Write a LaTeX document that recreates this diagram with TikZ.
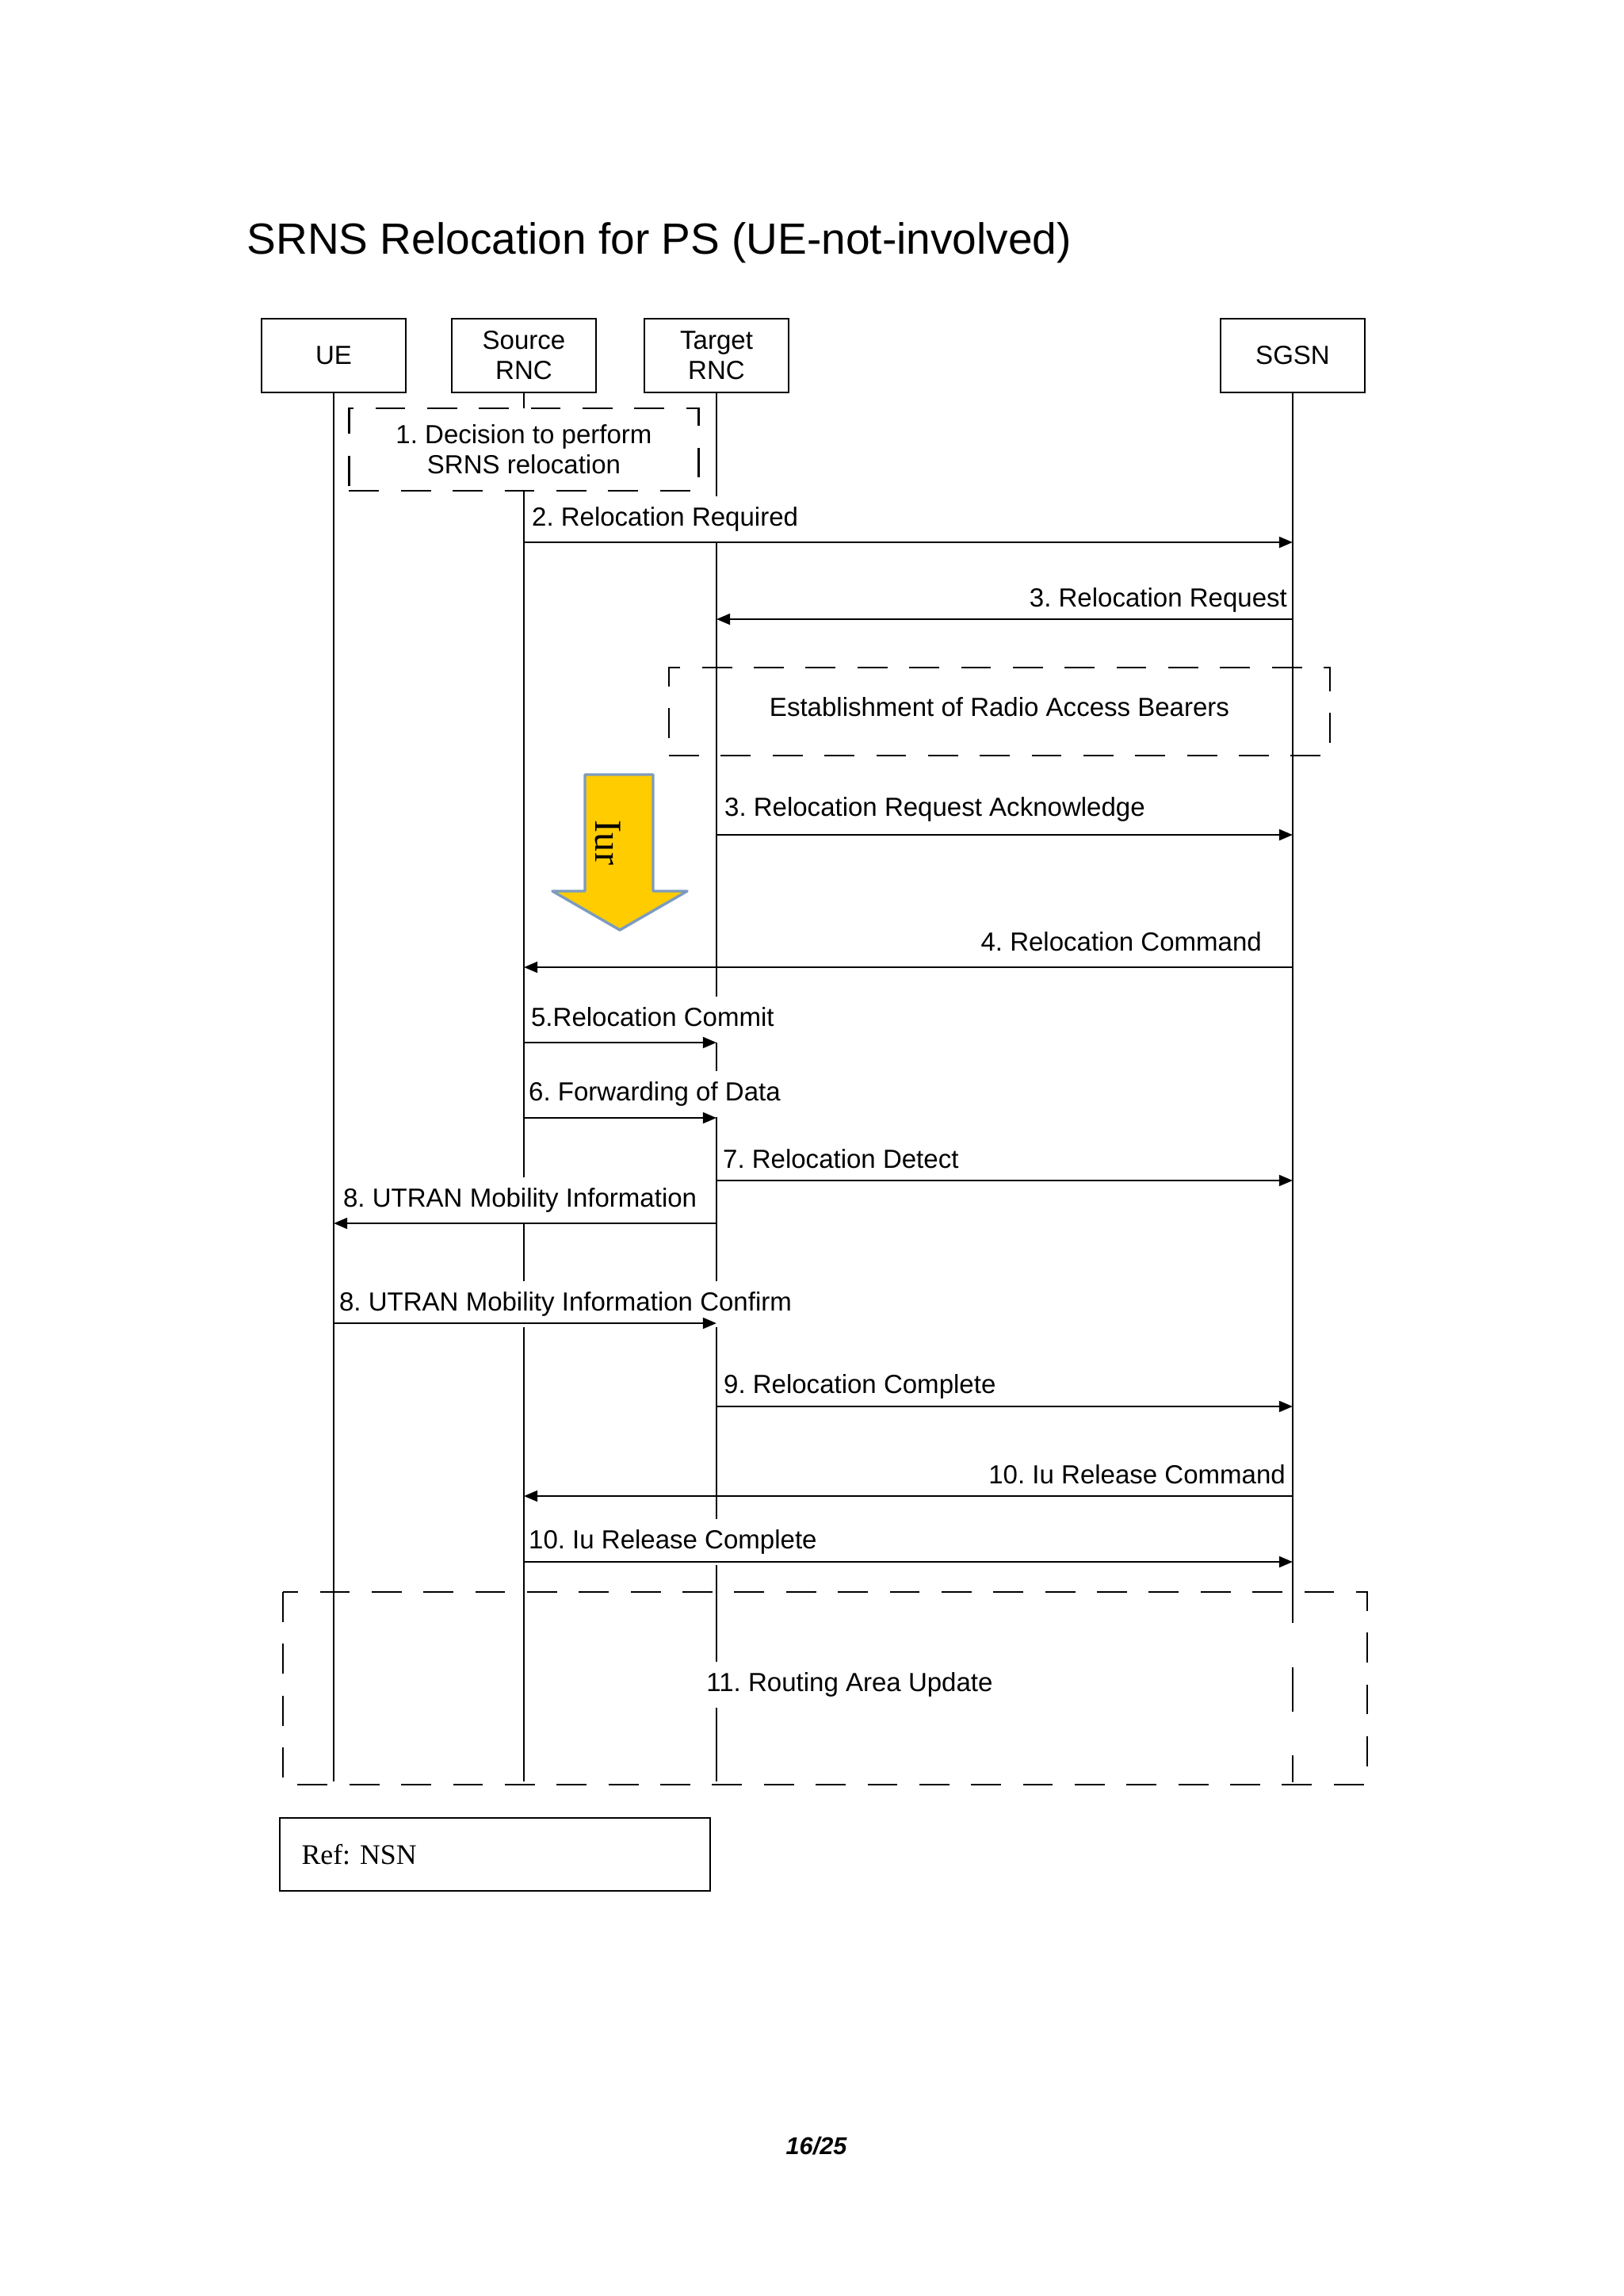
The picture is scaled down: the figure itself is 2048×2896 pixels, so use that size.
\documentclass[tikz,border=0pt]{standalone}
\usepackage{fontspec}
\setmainfont{Liberation Sans}
\newfontfamily\timesfont{Liberation Serif}
\usetikzlibrary{arrows.meta}

\begin{document}
\frenchspacing
\begin{tikzpicture}[x=0.29067pt,y=-0.29067pt,
    every node/.style={font=\fontsize{9.6}{11.1}\selectfont},
    entidad/.style={draw,line width=0.8pt,minimum width=52.9pt,minimum height=27pt,align=center,inner sep=1pt},
    vida/.style={line width=0.6pt},
    mensaje/.style={fill=white,inner xsep=1pt,inner ysep=4pt,text height=7pt,text depth=2pt},
    flecha/.style={line width=0.8pt,-{Triangle[length=5pt,width=4pt]}},
    bloque/.style={draw,line width=0.8pt,dash pattern=on 11pt off 8pt,align=center}]
    \useasboundingbox (0,0) rectangle (2048,2896);

    \node[anchor=base west,inner sep=0pt,font=\fontsize{16}{19}\selectfont] (titulo) at (311,320) {SRNS Relocation for PS (UE-not-involved)};

    \node[entidad] (ue)   at (421,448.5)  {UE};
    \node[entidad] (src)  at (661,448.5)  {Source\\RNC};
    \node[entidad] (tgt)  at (904,448.5)  {Target\\RNC};
    \node[entidad] (sgsn) at (1631,448.5) {SGSN};

    \coordinate (fin) at (0,2247);
    \draw[vida] (ue.south) -- (ue.south |- fin);
    \draw[vida] (src.south) -- (src.south |- fin);
    \draw[vida] (tgt.south) -- (tgt.south |- fin);
    \draw[vida] (sgsn.south) -- ++(0,1551) ++(0,56) -- ++(0,56) ++(0,55) -- ++(0,34);

    \node[bloque,fill=white,minimum width=128.2pt,minimum height=30.2pt] (decision) at (661,567) {1. Decision to perform\\SRNS relocation};
    \node[bloque,minimum width=242.4pt,minimum height=32.3pt,text depth=3.5pt] (rab) at (1261,897.5) {Establishment of Radio Access Bearers};
    \draw[line width=0.8pt,dash pattern=on 11pt off 8pt] (357,2008) rectangle (1725,2251);
    \node[mensaje] (rau) at (1072,2125) {11. Routing Area Update};

    %\node[mensaje] (nombre) at (x,y) {texto};
    \node[mensaje,anchor=west] (l2)   at (667,655)   {2. Relocation Required};
    \node[mensaje,anchor=east] (l3)   at (1628,757)  {3. Relocation Request};
    \node[mensaje,anchor=west] (l3a)  at (910,1021)  {3. Relocation Request Acknowledge};
    \node[mensaje,anchor=east] (l4)   at (1596,1191) {4. Relocation Command};
    \node[mensaje,anchor=west] (l5)   at (666,1286)  {5.Relocation Commit};
    \node[mensaje,anchor=west] (l6)   at (663,1380)  {6. Forwarding of Data};
    \node[mensaje,anchor=west] (l7)   at (908,1465)  {7. Relocation Detect};
    \node[mensaje,anchor=west] (l8)   at (429,1514)  {8. UTRAN Mobility Information};
    \node[mensaje,anchor=west] (l8c)  at (424,1645)  {8. UTRAN Mobility Information Confirm};
    \node[mensaje,anchor=west] (l9)   at (909,1749)  {9. Relocation Complete};
    \node[mensaje,anchor=east] (l10)  at (1626,1863) {10. Iu Release Command};
    \node[mensaje,anchor=west] (l10c) at (663,1945)  {10. Iu Release Complete};

    \coordinate (m2) at (0,684);
    \coordinate (m3) at (0,781);
    \coordinate (m3a) at (0,1053);
    \coordinate (m4) at (0,1220);
    \coordinate (m5) at (0,1315);
    \coordinate (m6) at (0,1410);
    \coordinate (m7) at (0,1489);
    \coordinate (m8) at (0,1543);
    \coordinate (m8c) at (0,1669);
    \coordinate (m9) at (0,1774);
    \coordinate (m10) at (0,1887);
    \coordinate (m10c) at (0,1970);

    \draw[flecha] (src |- m2) -- (sgsn |- m2);
    \draw[flecha] (sgsn |- m3) -- (tgt |- m3);
    \draw[flecha] (tgt |- m3a) -- (sgsn |- m3a);
    \draw[flecha] (sgsn |- m4) -- (src |- m4);
    \draw[flecha] (src |- m5) -- (tgt |- m5);
    \draw[flecha] (src |- m6) -- (tgt |- m6);
    \draw[flecha] (tgt |- m7) -- (sgsn |- m7);
    \draw[flecha] (tgt |- m8) -- (ue |- m8);
    \draw[flecha] (ue |- m8c) -- (tgt |- m8c);
    \draw[flecha] (tgt |- m9) -- (sgsn |- m9);
    \draw[flecha] (sgsn |- m10) -- (src |- m10);
    \draw[flecha] (src |- m10c) -- (sgsn |- m10c);

    \draw[line width=1pt,line join=round,fill={rgb,255:red,255;green,204;blue,0},draw={rgb,255:red,125;green,155;blue,190}]
        (738,977) -- (824,977) -- (824,1124) -- (867,1124) -- (782,1173) -- (697,1124) -- (738,1124) -- cycle;
    \node[rotate=-90,inner sep=0pt,font=\timesfont\fontsize{14}{16}\selectfont] (iur) at (767,1063) {Iur};

    \node[draw,line width=0.8pt,minimum width=157.8pt,minimum height=26.7pt,text width=141.8pt,inner xsep=8pt,align=left,font=\timesfont\fontsize{10.4}{12}\selectfont] (ref) at (624.5,2339) {Ref: NSN};

    \node[anchor=base,inner sep=0pt,font=\bfseries\itshape\fontsize{8.9}{10}\selectfont] (pagina) at (1030,2717) {16/25};
\end{tikzpicture}
\end{document}
